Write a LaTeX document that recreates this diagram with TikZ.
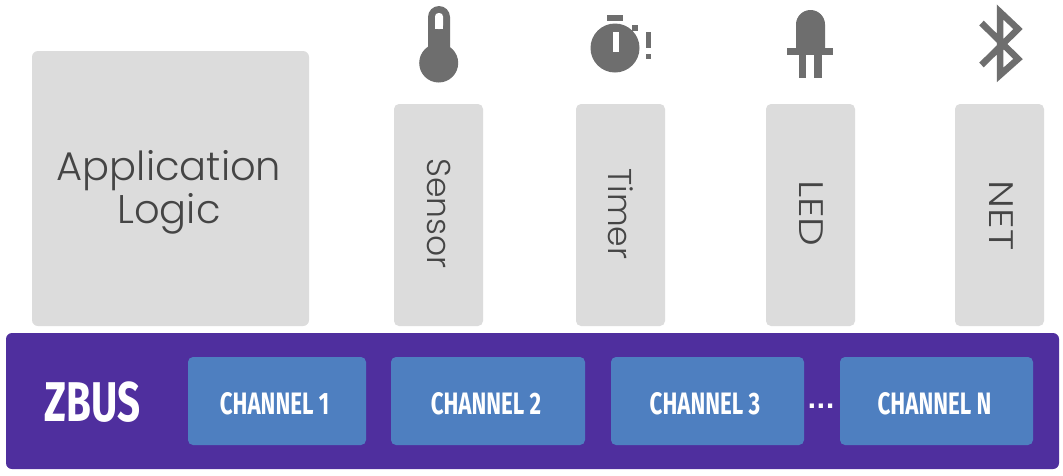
\documentclass[tikz,border=0pt]{standalone}
\usepackage{fontspec}
\setmainfont{Poppins Light}
\newfontfamily\WideFont[FakeStretch=1.2]{Poppins Light}
\newfontfamily\ChanFont[FakeStretch=0.72]{Fira Sans}
\newfontfamily\DotFont{DejaVu Sans}
\definecolor{BoxClr}{HTML}{DCDCDC}
\definecolor{BusClr}{HTML}{4F2F9E}
\definecolor{ChanClr}{HTML}{4E7FC0}
\definecolor{IconClr}{HTML}{6E6E6E}
\definecolor{TextClr}{HTML}{454545}
\tikzset{
  module/.style={fill=BoxClr,rounded corners=5pt,minimum width=89pt,minimum height=222pt,inner sep=0pt},
  modtext/.style={rotate=-90,text=TextClr,inner sep=0pt},
  channel/.style={fill=ChanClr,rounded corners=5pt,minimum height=88pt,inner sep=0pt},
  chantext/.style={text=white,font=\ChanFont\bfseries\fontsize{31}{36}\selectfont},
  icon/.style={fill=IconClr,draw=none}
}

\begin{document}
\begin{tikzpicture}[x=1pt,y=-1pt]
\useasboundingbox (0,0) rectangle (1063,475);
\fill[white] (0,0) rectangle (1063,475);

\node[fill=BoxClr,rounded corners=6pt,minimum width=277pt,minimum height=275pt,inner sep=0pt] (logic) at (170.5,188.5) {};
\node[text=TextClr,font=\fontsize{40}{44}\selectfont,align=center] (logictext) at (169,192) {Application\\[-1pt]Logic};

\node[module] (sensor) at (438.5,215) {};
\node[module] (timer) at (620.5,215) {};
\node[module] (led) at (810.5,215) {};
\node[module] (net) at (999.5,215) {};
\node[modtext,font=\fontsize{33}{36}\selectfont] (sensortext) at (439,213.5) {Sensor};
\node[modtext,font=\fontsize{33}{36}\selectfont] (timertext) at (620.5,214) {Timer};
\node[modtext,font=\WideFont\fontsize{34}{36}\selectfont] (ledtext) at (811.5,213.5) {LED};
\node[modtext,font=\WideFont\fontsize{34}{36}\selectfont] (nettext) at (1001,215.5) {NET};

\node[fill=BusClr,rounded corners=6pt,minimum width=1053pt,minimum height=136pt,inner sep=0pt] (bus) at (532.5,401) {};
\node[text=white,font=\ChanFont\bfseries\fontsize{56}{60}\selectfont] (zbus) at (92.5,402) {ZBUS};

\node[channel,minimum width=178pt] (chan1) at (277,401) {};
\node[channel,minimum width=194pt] (chan2) at (488,401) {};
\node[channel,minimum width=193pt] (chan3) at (707.5,401) {};
\node[channel,minimum width=193pt] (chann) at (936.5,401) {};
\node[chantext] (chan1text) at (274.5,403.5) {CHANNEL 1};
\node[chantext] (chan2text) at (486,403.5) {CHANNEL 2};
\node[chantext] (chan3text) at (705,403.5) {CHANNEL 3};
\node[chantext] (channtext) at (934.5,403.5) {CHANNEL N};
\node[text=white,font=\DotFont\bfseries\fontsize{24}{24}\selectfont,inner sep=0pt] (dots) at (821,406) {...};

% thermometer
\fill[icon] (438.7,63) circle (19.5);
\fill[icon,rounded corners=11pt] (428,6) rectangle (450,60);
\fill[white,rounded corners=3.5pt] (435,13) -- (443,13) -- (443,29) -- (435,29) -- cycle;
\fill[white] (435,22) rectangle (443,29);

% timer
\fill[icon] (615,48) circle (24.5);
\fill[icon] (607,15) rectangle (623,21);
\fill[icon] (632,25) rectangle (637.5,31);
\fill[white] (613,32) rectangle (619,52);
\fill[icon] (646,32) rectangle (651,48);
\fill[icon] (646,54) rectangle (651,59);

% led
\fill[icon,rounded corners=14.5pt] (796,10) rectangle (825,70);
\fill[white] (790,50) rectangle (830,72);
\fill[icon] (787,48) rectangle (833,55);
\fill[icon] (799,50) rectangle (806,78);
\fill[icon] (814,50) rectangle (822,78);

% bluetooth
\draw[IconClr,line width=6.5pt,miter limit=3] (981.5,23) -- (1018,59) -- (1000,75) -- (1000,12) -- (1018,29) -- (981.5,65);

\end{tikzpicture}
\end{document}
